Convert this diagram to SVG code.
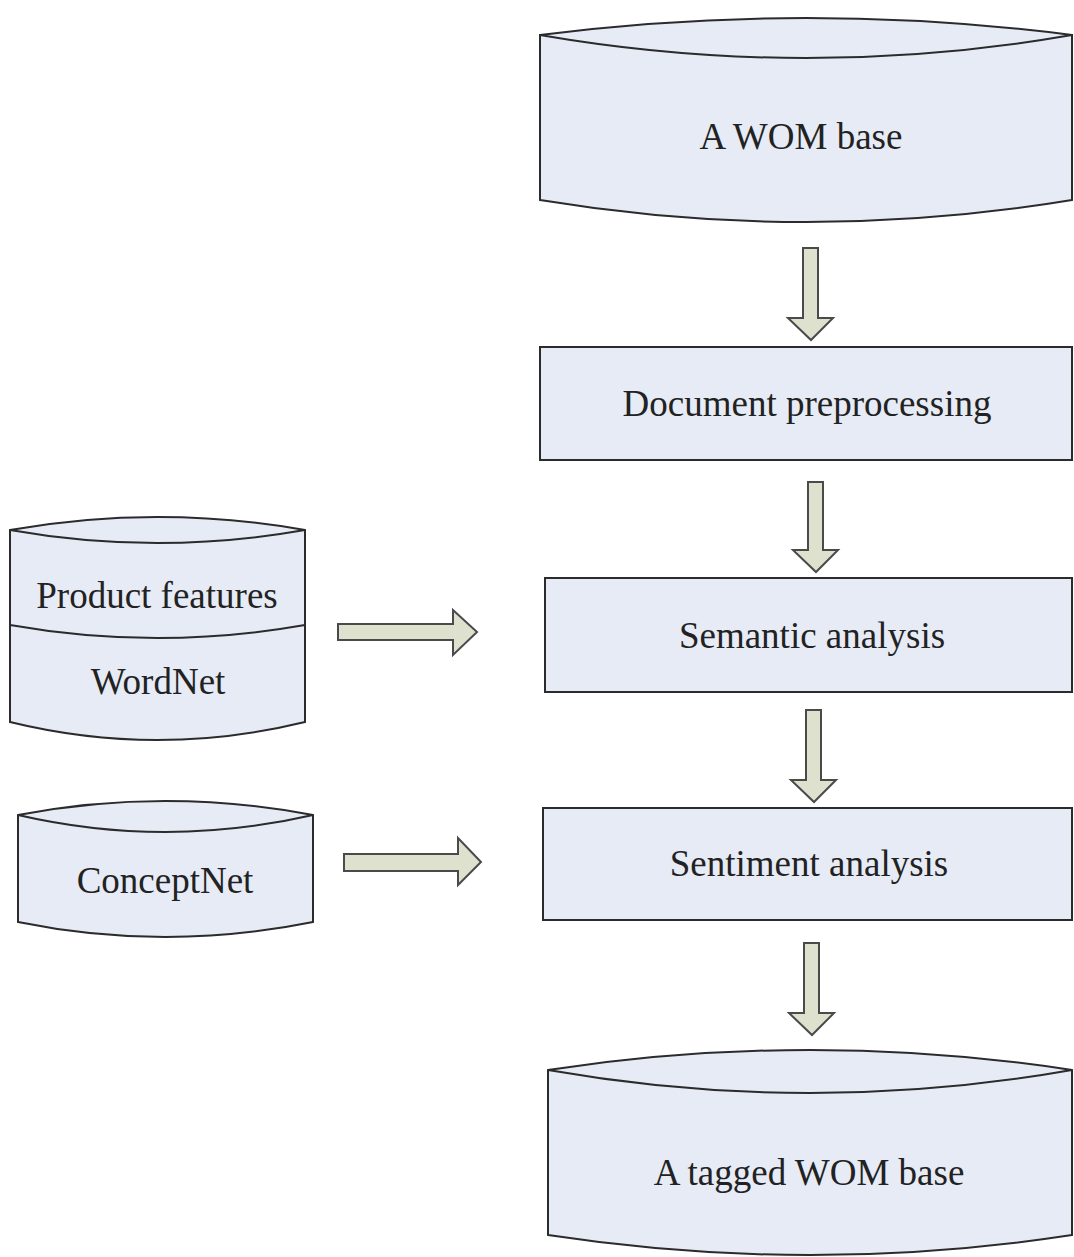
<svg xmlns="http://www.w3.org/2000/svg" width="1074" height="1257" viewBox="0 0 1074 1257">
<style>
.shape{fill:#e6ebf6;stroke:#2b2b2b;stroke-width:2}
.line{fill:none;stroke:#2b2b2b;stroke-width:2}
.arrow{fill:#dfe1cf;stroke:#4a4a4a;stroke-width:2;stroke-linejoin:miter}
text{font-family:"Liberation Serif","Times New Roman",serif;font-size:37px;fill:#222;text-anchor:middle}
</style>
<rect width="1074" height="1257" fill="#ffffff"/>
<g id="wom-base">
<path class="shape" d="M540,35 Q806,1 1072,35 L1072,200 Q806,244 540,200 Z"/>
<path class="line" d="M540,35 Q806,81 1072,35"/>
<text x="801" y="149">A WOM base</text>
</g>
<g id="doc-preprocessing">
<rect class="shape" x="540" y="347" width="532" height="113"/>
<text x="807" y="416">Document preprocessing</text>
</g>
<g id="semantic-analysis">
<rect class="shape" x="545" y="578" width="527" height="114"/>
<text x="812" y="648">Semantic analysis</text>
</g>
<g id="sentiment-analysis">
<rect class="shape" x="543" y="808" width="529" height="112"/>
<text x="809" y="876">Sentiment analysis</text>
</g>
<g id="tagged-wom-base">
<path class="shape" d="M548,1070 Q810,1030 1072,1070 L1072,1235 Q810,1275 548,1235 Z"/>
<path class="line" d="M548,1070 Q810,1116 1072,1070"/>
<text x="809" y="1185">A tagged WOM base</text>
</g>
<g id="product-features-wordnet">
<path class="shape" d="M10,530 Q157,504 305,530 L305,722 Q157,758 10,722 Z"/>
<path class="line" d="M10,530 Q157,556 305,530"/>
<path class="line" d="M10,625 Q157,651 305,625"/>
<text x="157" y="608">Product features</text>
<text x="158" y="694">WordNet</text>
</g>
<g id="conceptnet">
<path class="shape" d="M18,815 Q165,787 313,815 L313,922 Q165,952 18,922 Z"/>
<path class="line" d="M18,815 Q165,849 313,815"/>
<text x="165" y="893">ConceptNet</text>
</g>
<g id="connectors">
<path class="arrow" d="M803,248 L818,248 L818,318 L833,318 L811,340 L788,318 L803,318 Z"/>
<path class="arrow" d="M808,482 L823,482 L823,550 L838,550 L816,572 L793,550 L808,550 Z"/>
<path class="arrow" d="M806,710 L821,710 L821,780 L836,780 L814,802 L791,780 L806,780 Z"/>
<path class="arrow" d="M804,943 L819,943 L819,1013 L834,1013 L812,1035 L789,1013 L804,1013 Z"/>
<path class="arrow" d="M338,624 L453,624 L453,610 L477,632 L453,655 L453,640 L338,640 Z"/>
<path class="arrow" d="M344,854 L458,854 L458,838 L481,862 L458,885 L458,871 L344,871 Z"/>
</g>
</svg>
